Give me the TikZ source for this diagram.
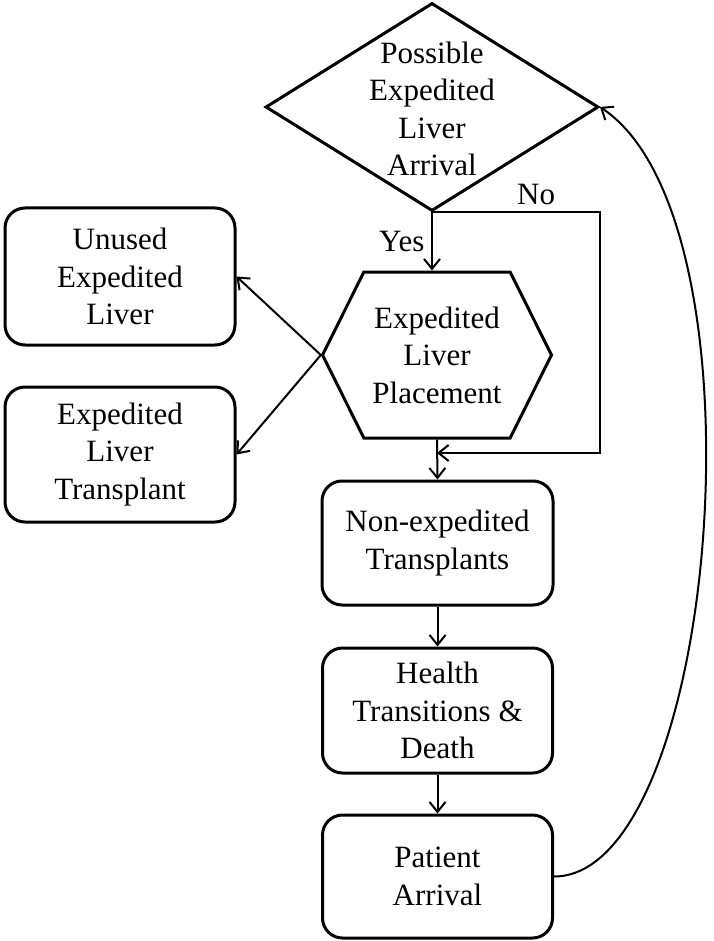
\documentclass[tikz,border=0pt]{standalone}
\usepackage{fontspec}
\setmainfont{Liberation Serif}
\usepackage{tikz}
\usetikzlibrary{positioning, arrows.meta, shapes.geometric, shapes.symbols}
\tikzset{
  block/.style={
    draw, rounded corners=10pt, line width=1.5pt,
    align=center, inner sep=2pt,
    minimum width=115pt, minimum height=62pt
  },
  decision/.style={
    draw, diamond, line width=1.5pt, inner sep=0pt,
    minimum width=166.5pt, minimum height=104pt
  },
  hexa/.style={
    draw, signal, signal to=west and east, signal pointer angle=127,
    line width=1.5pt, align=center, inner sep=2pt,
    minimum width=114.5pt, minimum height=83pt
  },
  arrow/.style={-{Straight Barb[length=5pt, width=8pt]}, line width=1pt},
  lbl/.style={font=\fontsize{15.5pt}{18.75pt}\selectfont}
}

\begin{document}
\begin{tikzpicture}[font=\fontsize{15.5pt}{18.75pt}\selectfont]
  \useasboundingbox (0,0) rectangle (356.5pt,-470.5pt);

  \node[decision, label={[align=center, yshift=-1pt]center:Possible\\Expedited\\Liver\\Arrival}] (arr) at (216pt,-53.5pt) {};
  \node[hexa] (place) at (218.5pt,-177.5pt) {Expedited\\Liver\\Placement};
  \node[block, minimum width=115.5pt] (nonexp) at (218.75pt,-271.5pt) {Non-expedited\\Transplants};
  \node[block, minimum height=62.5pt] (health) at (218.75pt,-355.25pt) {Health\\Transitions \&\\Death};
  \node[block, minimum height=61.5pt] (patient) at (218.75pt,-438.25pt) {Patient\\Arrival};
  \node[block, minimum height=68.5pt] (unused) at (60pt,-138.25pt) {Unused\\Expedited\\Liver};
  \node[block, minimum height=67.5pt] (transp) at (60pt,-227.25pt) {Expedited\\Liver\\Transplant};
  \coordinate (nobend) at (300pt,-226.5pt);

  \draw[arrow] (arr.south) -- (arr.south |- place.north) node[midway, left, lbl] {Yes};
  \draw[arrow] (arr.south) -| node[pos=0.31, above, lbl] {No} (nobend) -- (place.south |- nobend);
  \draw[arrow] (place.west) -- (unused.east);
  \draw[arrow] (place.west) -- (transp.east);
  \draw[arrow] (place.south) -- (nonexp.north);
  \draw[arrow] (nonexp) -- (health);
  \draw[arrow] (health) -- (patient);
  \draw[arrow] (patient.east) .. controls +(82pt,0pt) and +(86pt,-57pt) .. (arr.east);
\end{tikzpicture}
\end{document}
